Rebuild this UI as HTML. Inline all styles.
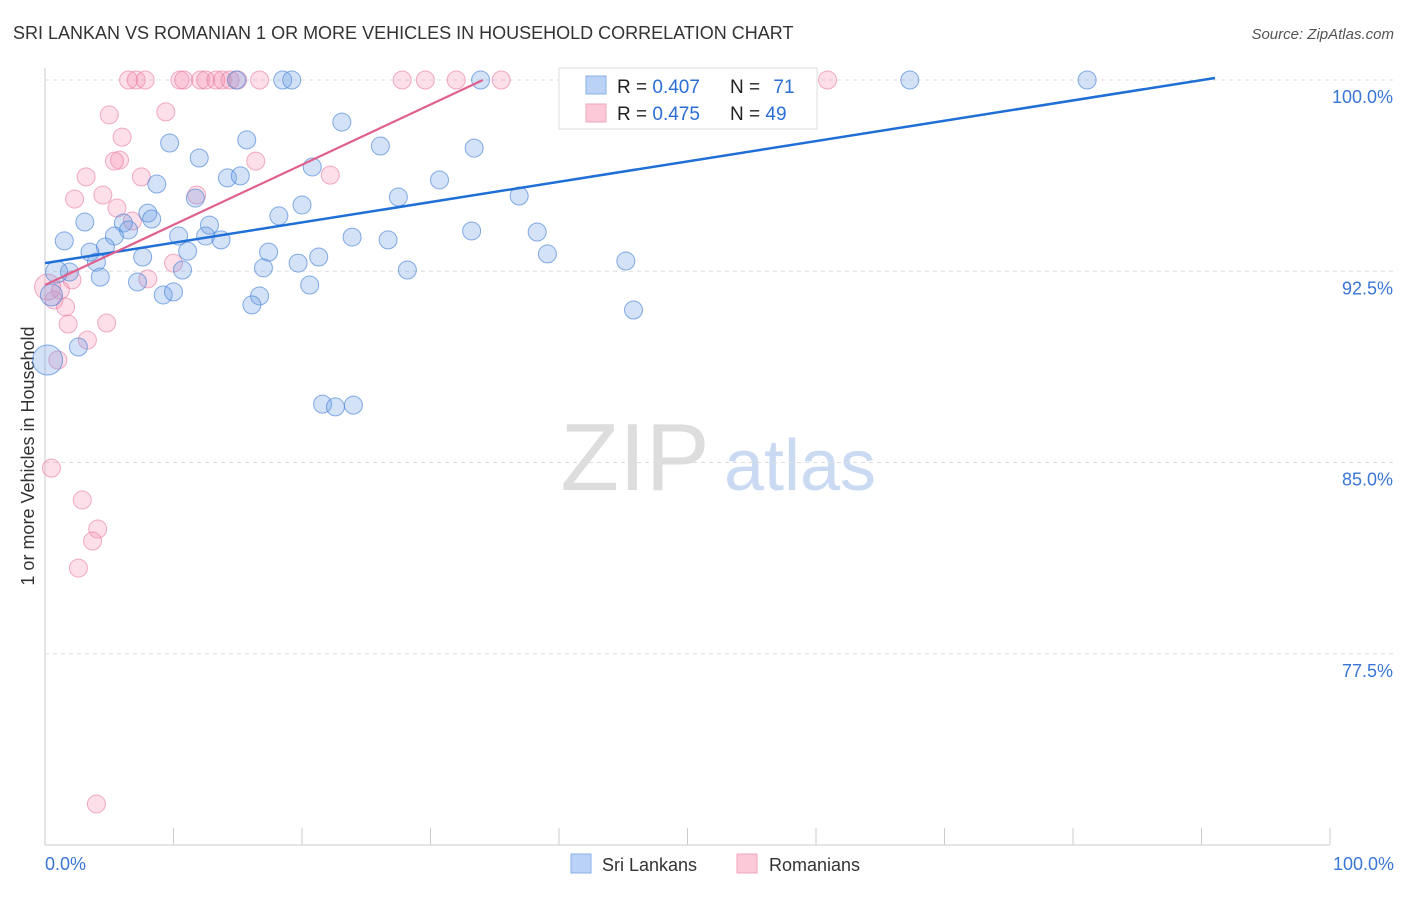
<!DOCTYPE html>
<html><head><meta charset="utf-8"><style>
body{margin:0;background:#fff;font-family:"Liberation Sans",sans-serif;}
svg text{font-family:"Liberation Sans",sans-serif;}
</style></head><body>
<svg id="chart" width="1406" height="892" xmlns="http://www.w3.org/2000/svg">
<text x="13" y="39" font-size="18" fill="#333">SRI LANKAN VS ROMANIAN 1 OR MORE VEHICLES IN HOUSEHOLD CORRELATION CHART</text>
<text x="1394" y="39" font-size="15" fill="#555" text-anchor="end" font-style="italic">Source: ZipAtlas.com</text>
<text transform="translate(34,456) rotate(-90)" font-size="18" fill="#333" text-anchor="middle">1 or more Vehicles in Household</text>
<g>
<text x="635" y="490" font-size="96" fill="#ddd" text-anchor="middle" font-family="Liberation Serif">ZIP</text>
<text x="800" y="490" font-size="72" fill="#c9daf2" text-anchor="middle">atlas</text>
</g>
<g id="grid"></g>
<g id="marks"></g>
<g>
<rect x="559" y="68" width="258" height="61" fill="#fff" stroke="#ddd"/>
<rect x="586" y="76" width="20" height="18" fill="#b9d2f6" stroke="#8ab0e8"/>
<rect x="586" y="104" width="20" height="18" fill="#fbc9d8" stroke="#f0a5bd"/>
<text x="617" y="93" font-size="19" fill="#222">R = <tspan fill="#2a6ed6">0.407</tspan></text>
<text x="730" y="93" font-size="19" fill="#222">N = <tspan fill="#2a6ed6" dx="8">71</tspan></text>
<text x="617" y="120" font-size="19" fill="#222">R = <tspan fill="#2a6ed6">0.475</tspan></text>
<text x="730" y="120" font-size="19" fill="#222">N = <tspan fill="#2a6ed6">49</tspan></text>
</g>
<g>
<rect x="571" y="854" width="20" height="19" fill="#b9d2f6" stroke="#8ab0e8"/>
<text x="602" y="871" font-size="18" fill="#333">Sri Lankans</text>
<rect x="737" y="854" width="20" height="19" fill="#fbc9d8" stroke="#f0a5bd"/>
<text x="769" y="871" font-size="18" fill="#333">Romanians</text>
</g>
</svg>
<script>
const xTicks=[0,10,20,30,40,50,60,70,80,90,100];
const yTicks=[100,92.5,85,77.5];
const yTickLabels=["100.0%","92.5%","85.0%","77.5%"];
const xLabels=["0.0%","100.0%"];
const blueX=[41.6,52.2,54.4,67.3,81.1,18.5,19.2,33.9,14.9,23.1,9.7,15.7,26.1,33.4,12.0,20.8,14.2,15.2,8.7,30.7,27.5,36.9,11.7,20.0,18.2,8.0,8.3,3.1,6.1,12.8,6.5,1.5,5.4,10.4,12.5,13.7,23.9,26.7,33.2,38.3,4.7,3.5,11.1,17.4,7.6,21.3,39.1,45.2,4.0,10.7,17.0,19.7,28.2,1.9,4.3,7.2,20.6,9.2,10.0,16.7,16.1,45.8,2.6,0.2,21.6,22.6,24.0,0.9,0.5];
const blueY=[100,100,100,100,100,100,100,100,100,98.35,97.53,97.65,97.41,97.33,96.94,96.59,96.16,96.24,95.92,96.08,95.41,95.45,95.37,95.10,94.67,94.78,94.55,94.43,94.39,94.31,94.12,93.69,93.88,93.88,93.88,93.73,93.84,93.73,94.08,94.04,93.45,93.25,93.29,93.25,93.06,93.06,93.18,92.90,92.86,92.55,92.63,92.82,92.55,92.47,92.27,92.08,91.96,91.57,91.69,91.53,91.18,90.98,89.53,89.02,87.29,87.18,87.25,92.47,91.57];
const blueBig=[63,67,68];
const pinkX=[6.5,7.1,7.8,10.5,10.8,12.1,12.5,13.3,13.8,14.4,15.0,16.7,27.8,29.6,32.0,35.5,53.7,60.9,5.0,9.4,6.0,5.8,5.4,3.2,7.5,16.4,22.2,2.3,4.5,11.8,5.6,6.8,10.0,8.0,2.1,1.2,0.7,1.6,1.8,4.8,3.3,1.0,0.5,2.9,4.1,3.7,2.6,4.0,0.2];
const pinkY=[100,100,100,100,100,100,100,100,100,100,100,100,100,100,100,100,100,100,98.63,98.75,97.76,96.86,96.82,96.20,96.20,96.82,96.27,95.33,95.49,95.49,94.98,94.47,92.82,92.20,92.16,91.76,91.37,91.10,90.43,90.47,89.80,89.02,84.78,83.53,82.39,81.92,80.86,71.61,91.88];
const blueLine=[[0,92.82],[91.05,100.08]];
const pinkLine=[[0,91.96],[34.08,100]];
const NS="http://www.w3.org/2000/svg";
const X=v=>45+v*12.85, Y=v=>80+(100-v)*25.5;
function mk(tag,attrs,parent){const e=document.createElementNS(NS,tag);for(const k in attrs)e.setAttribute(k,attrs[k]);parent.appendChild(e);return e;}
const grid=document.getElementById('grid'), marks=document.getElementById('marks');
let ax=mk('line',{x1:45,y1:68,x2:45,y2:845,stroke:'#ccc'},grid);


let bx=mk('line',{x1:45,y1:845,x2:1330,y2:845,stroke:'#ccc'},grid);


yTicks.forEach((t,i)=>{
 const g=mk('line',{x1:45,y1:Y(t),x2:1394,y2:Y(t),stroke:'#ddd','stroke-dasharray':'4,4'},grid);
 
 
 const tx=mk('text',{x:1393,y:Y(t)+23,'font-size':18,fill:'#3a76d6','text-anchor':'end'},grid);
 tx.textContent=yTickLabels[i];
 
 
});
xTicks.forEach(t=>{
 const l=mk('line',{x1:X(t),y1:828,x2:X(t),y2:845,stroke:'#ccc'},grid);
 
 
});
[[0,'start',45],[100,'end',1394]].forEach((d,i)=>{
 const tx=mk('text',{x:d[2],y:870,'font-size':18,fill:'#3a76d6','text-anchor':d[1]},grid);
 tx.textContent=xLabels[i];
 
 
});
pinkX.forEach((x,i)=>{
 const c=mk('circle',{cx:X(x),cy:Y(pinkY[i]),r:i===48?13:9,fill:'rgba(244,150,180,0.3)',stroke:'rgba(232,120,160,0.6)','stroke-width':1},marks);
 
 
});
blueX.forEach((x,i)=>{
 const c=mk('circle',{cx:X(x),cy:Y(blueY[i]),r:blueBig.includes(i)?(i===63?15:11):9,fill:'rgba(110,160,230,0.3)',stroke:'rgba(70,130,215,0.65)','stroke-width':1},marks);
 
 
});
const bl=mk('line',{x1:X(blueLine[0][0]),y1:Y(blueLine[0][1]),x2:X(blueLine[1][0]),y2:Y(blueLine[1][1]),stroke:'#1f6fd6','stroke-width':2.5},marks);


const pl=mk('line',{x1:X(pinkLine[0][0]),y1:Y(pinkLine[0][1]),x2:X(pinkLine[1][0]),y2:Y(pinkLine[1][1]),stroke:'#e0608d','stroke-width':2.2},marks);


</script>
</body></html>
